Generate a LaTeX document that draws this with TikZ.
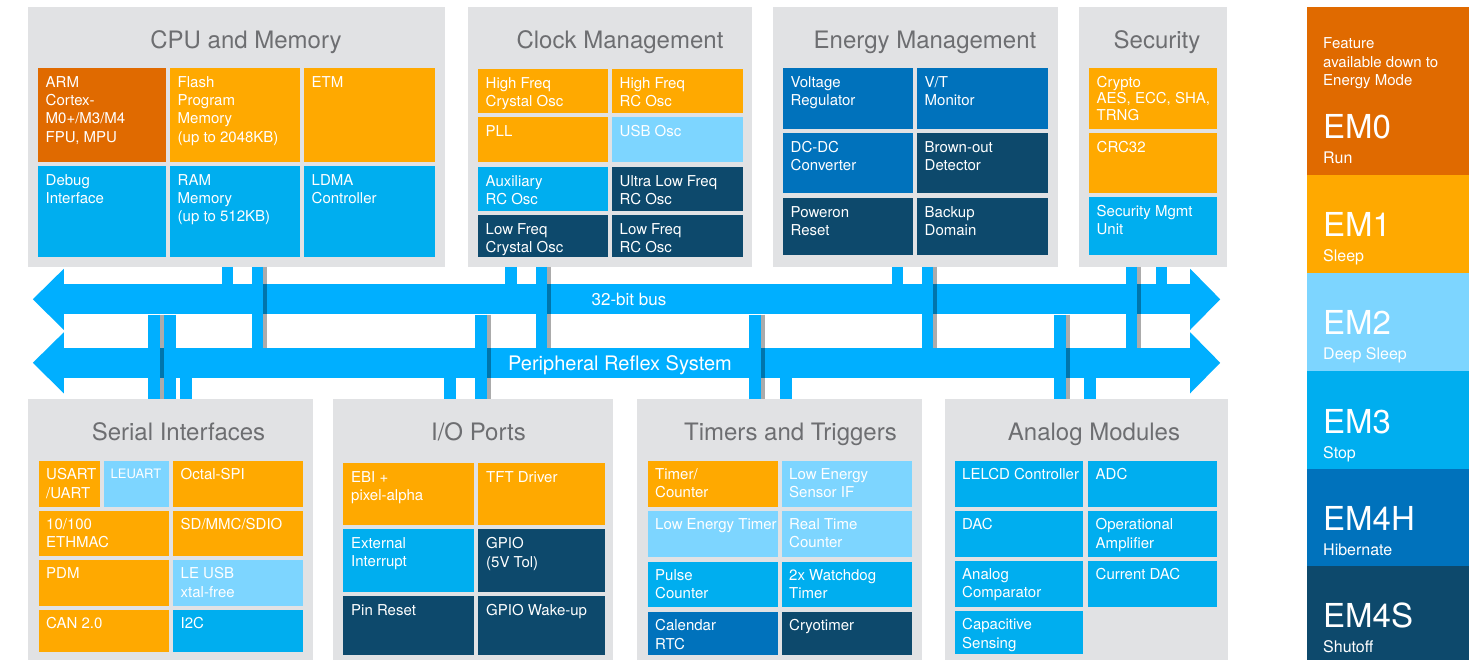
\documentclass[tikz,border=0pt]{standalone}
\usepackage{fontspec}
\setmainfont{TeX Gyre Heros}
\usepackage{xcolor}
\definecolor{panelgray}{RGB}{225,226,228}
\definecolor{titlegray}{RGB}{109,110,113}
\definecolor{orng}{RGB}{255,169,0}
\definecolor{darkorng}{RGB}{224,106,0}
\definecolor{cyanblue}{RGB}{0,174,239}
\definecolor{lightblue}{RGB}{125,213,255}
\definecolor{midblue}{RGB}{0,114,188}
\definecolor{navy}{RGB}{13,73,108}
\definecolor{busblue}{RGB}{0,175,255}

\begin{document}
\begin{tikzpicture}[x=1pt,y=1pt,yscale=-1,xscale=1,
	panel/.style={fill=panelgray, inner sep=0pt, anchor=north west},
	paneltitle/.style={text=titlegray, font=\fontsize{24}{28}\selectfont, anchor=base, inner sep=0pt},
	celltext/.style={text=white, font=\fontsize{15}{18.3}\selectfont, align=left, anchor=north west, inner sep=0pt},
	busbody/.style={fill=busblue, inner sep=0pt, minimum width=1126pt, minimum height=30pt},
	bustext/.style={text=white, anchor=base, inner sep=0pt},
	busbar/.style={draw=busblue, line width=11.5pt},
	barshade/.style={draw=black, draw opacity=0.33, line width=4pt},
	legbig/.style={text=white, font=\fontsize{33}{36}\selectfont, anchor=base west, inner sep=0pt},
	legsub/.style={text=white, font=\fontsize{16}{19}\selectfont, anchor=base west, inner sep=0pt}]
			\useasboundingbox (0,0) rectangle (1483,660);

			%Shape: Panels
			\node [panel, minimum width=417pt, minimum height=259.5pt] (cpu) at (28,7) {};
			\node [panel, minimum width=284pt, minimum height=259.5pt] (clock) at (468,7) {};
			\node [panel, minimum width=285pt, minimum height=259.5pt] (energy) at (773,7) {};
			\node [panel, minimum width=148pt, minimum height=259.5pt] (security) at (1079,7) {};
			\node [panel, minimum width=285pt, minimum height=261.5pt] (serial) at (28,398.5) {};
			\node [panel, minimum width=280pt, minimum height=261.5pt] (io) at (333,398.5) {};
			\node [panel, minimum width=285pt, minimum height=261.5pt] (timers) at (637,398.5) {};
			\node [panel, minimum width=283pt, minimum height=261.5pt] (analog) at (945,398.5) {};

			% Text Node
			\node [paneltitle] (cputitle) at (246,48.3) {CPU and Memory};
			\node [paneltitle] (clocktitle) at (620,48.5) {Clock Management};
			\node [paneltitle] (energytitle) at (925,48.5) {Energy Management};
			\node [paneltitle] (securitytitle) at (1157,48.5) {Security};
			\node [paneltitle] (serialtitle) at (178.5,440.5) {Serial Interfaces};
			\node [paneltitle] (iotitle) at (478.5,440.5) {I/O Ports};
			\node [paneltitle] (timerstitle) at (790.5,440.5) {Timers and Triggers};
			\node [paneltitle] (analogtitle) at (1094,440.5) {Analog Modules};

			%Shape: Rectangle -- CPU and Memory
			\fill [darkorng] (38,68) rectangle (166,162) ;
			\fill [orng] (170,68) rectangle (300,162) ;
			\fill [orng] (304,68) rectangle (435,162) ;
			\fill [cyanblue] (38,166) rectangle (166,257) ;
			\fill [cyanblue] (170,166) rectangle (300,257) ;
			\fill [cyanblue] (304,166) rectangle (435,257) ;
			% Text Node
			\node [celltext] (arm) at (45.5,76) {ARM\\Cortex-\\M0+/M3/M4\\FPU, MPU};
			\node [celltext] (flash) at (177.5,76) {Flash\\Program\\Memory\\(up to 2048KB)};
			\node [celltext] (etm) at (311.5,76) {ETM};
			\node [celltext] (debug) at (45.5,174) {Debug\\Interface};
			\node [celltext] (ram) at (177.5,174) {RAM\\Memory\\(up to 512KB)};
			\node [celltext] (ldma) at (311.5,174) {LDMA\\Controller};

			%Shape: Rectangle -- Clock Management
			\fill [orng] (478,69) rectangle (608,113) ;
			\fill [orng] (612,69) rectangle (743,113) ;
			\fill [orng] (478,117) rectangle (608,162) ;
			\fill [lightblue] (612,117) rectangle (743,162) ;
			\fill [cyanblue] (478,167) rectangle (608,211) ;
			\fill [navy] (612,167) rectangle (743,211) ;
			\fill [navy] (478,215) rectangle (608,257) ;
			\fill [navy] (612,215) rectangle (743,257) ;
			% Text Node
			\node [celltext] (hfxo) at (485.5,77) {High Freq\\Crystal Osc};
			\node [celltext] (hfrco) at (619.5,77) {High Freq\\RC Osc};
			\node [celltext] (pll) at (485.5,125) {PLL};
			\node [celltext] (usbosc) at (619.5,125) {USB Osc};
			\node [celltext] (auxrco) at (485.5,175) {Auxiliary\\RC Osc};
			\node [celltext] (ulfrco) at (619.5,175) {Ultra Low Freq\\RC Osc};
			\node [celltext] (lfxo) at (485.5,223) {Low Freq\\Crystal Osc};
			\node [celltext] (lfrco) at (619.5,223) {Low Freq\\RC Osc};

			%Shape: Rectangle -- Energy Management
			\fill [midblue] (783,68) rectangle (913,129) ;
			\fill [midblue] (917,68) rectangle (1048,129) ;
			\fill [midblue] (783,133) rectangle (913,193) ;
			\fill [navy] (917,133) rectangle (1048,193) ;
			\fill [navy] (783,198) rectangle (913,255) ;
			\fill [navy] (917,198) rectangle (1048,255) ;
			% Text Node
			\node [celltext] (vreg) at (790.5,76) {Voltage\\Regulator};
			\node [celltext] (vtmon) at (924.5,76) {V/T\\Monitor};
			\node [celltext] (dcdc) at (790.5,141) {DC-DC\\Converter};
			\node [celltext] (bod) at (924.5,141) {Brown-out\\Detector};
			\node [celltext] (por) at (790.5,206) {Poweron\\Reset};
			\node [celltext] (backup) at (924.5,206) {Backup\\Domain};

			%Shape: Rectangle -- Security
			\fill [orng] (1089,68) rectangle (1217,129) ;
			\fill [orng] (1089,133) rectangle (1217,193) ;
			\fill [cyanblue] (1089,197) rectangle (1217,255) ;
			% Text Node
			\node [celltext, font=\fontsize{15}{16.3}\selectfont] (crypto) at (1096.5,76) {Crypto\\AES, ECC, SHA,\\TRNG};
			\node [celltext] (crc) at (1096.5,141) {CRC32};
			\node [celltext] (smu) at (1096.5,205) {Security Mgmt\\Unit};

			%Shape: Rectangle -- Serial Interfaces
			\fill [orng] (39,461) rectangle (100,507) ;
			\fill [lightblue] (104,461) rectangle (169,507) ;
			\fill [orng] (173,461) rectangle (303,507) ;
			\fill [orng] (39,511) rectangle (169,556) ;
			\fill [orng] (173,511) rectangle (303,556) ;
			\fill [orng] (39,560) rectangle (169,606) ;
			\fill [lightblue] (173,560) rectangle (303,606) ;
			\fill [orng] (39,610) rectangle (169,652) ;
			\fill [cyanblue] (173,610) rectangle (303,652) ;
			% Text Node
			\node [celltext] (usart) at (46,468.5) {USART\\/UART};
			\node [celltext, font=\fontsize{13}{15}\selectfont] (leuart) at (110.5,468.5) {LEUART};
			\node [celltext] (ospi) at (180.5,468.5) {Octal-SPI};
			\node [celltext] (eth) at (46,518.5) {10/100\\ETHMAC};
			\node [celltext] (sdio) at (180.5,518.5) {SD/MMC/SDIO};
			\node [celltext] (pdm) at (46,567.5) {PDM};
			\node [celltext] (leusb) at (180.5,567.5) {LE USB\\xtal-free};
			\node [celltext] (can) at (46,617.5) {CAN 2.0};
			\node [celltext] (itwoc) at (180.5,617.5) {I2C};

			%Shape: Rectangle -- I/O Ports
			\fill [orng] (343,463) rectangle (474,525) ;
			\fill [orng] (478,463) rectangle (605,525) ;
			\fill [cyanblue] (343,529) rectangle (474,592) ;
			\fill [navy] (478,529) rectangle (605,592) ;
			\fill [navy] (343,596) rectangle (474,655) ;
			\fill [navy] (478,596) rectangle (605,655) ;
			% Text Node
			\node [celltext] (ebi) at (351,471.5) {EBI +\\pixel-alpha};
			\node [celltext] (tft) at (486,471.5) {TFT Driver};
			\node [celltext] (extint) at (351,537.5) {External\\Interrupt};
			\node [celltext] (gpio) at (486,537.5) {GPIO\\(5V Tol)};
			\node [celltext] (pinreset) at (351,604) {Pin Reset};
			\node [celltext] (gpiowake) at (486,604) {GPIO Wake-up};

			%Shape: Rectangle -- Timers and Triggers
			\fill [orng] (648,461) rectangle (778,507) ;
			\fill [lightblue] (782,461) rectangle (912,507) ;
			\fill [lightblue] (648,511) rectangle (778,557) ;
			\fill [lightblue] (782,511) rectangle (912,557) ;
			\fill [cyanblue] (648,562) rectangle (778,607) ;
			\fill [cyanblue] (782,562) rectangle (912,607) ;
			\fill [midblue] (648,612) rectangle (778,655) ;
			\fill [navy] (782,612) rectangle (912,655) ;
			% Text Node
			\node [celltext] (timer) at (655,468.5) {Timer/\\Counter};
			\node [celltext] (lesense) at (789,468.5) {Low Energy\\Sensor IF};
			\node [celltext] (letimer) at (655,518.5) {Low Energy Timer};
			\node [celltext] (rtc) at (789,518.5) {Real Time\\Counter};
			\node [celltext] (pcnt) at (655,569.5) {Pulse\\Counter};
			\node [celltext] (wdog) at (789,569.5) {2x Watchdog\\Timer};
			\node [celltext] (rtcc) at (655,619.5) {Calendar\\RTC};
			\node [celltext] (cryo) at (789,619.5) {Cryotimer};

			%Shape: Rectangle -- Analog Modules
			\fill [cyanblue] (955,461) rectangle (1083,507) ;
			\fill [cyanblue] (1088,461) rectangle (1217,507) ;
			\fill [cyanblue] (955,511) rectangle (1083,557) ;
			\fill [cyanblue] (1088,511) rectangle (1217,557) ;
			\fill [cyanblue] (955,561) rectangle (1083,607) ;
			\fill [cyanblue] (1088,561) rectangle (1217,607) ;
			\fill [cyanblue] (955,611) rectangle (1083,654) ;
			% Text Node
			\node [celltext] (lelcd) at (962,468.5) {LELCD Controller};
			\node [celltext] (adc) at (1095.5,468.5) {ADC};
			\node [celltext] (dac) at (962,518.5) {DAC};
			\node [celltext] (opamp) at (1095.5,518.5) {Operational\\Amplifier};
			\node [celltext] (acmp) at (962,568.5) {Analog\\Comparator};
			\node [celltext] (idac) at (1095.5,568.5) {Current DAC};
			\node [celltext] (csen) at (962,618.5) {Capacitive\\Sensing};

			%Shape: Double Arrows (buses)
			\node [busbody] (bus1) at (627,299.5) {};
			\fill [busblue] (bus1.north west) -- ++(0,-15.5) -- ++(-31,30.5) -- ++(31,30.5) -- (bus1.south west) -- cycle ;
			\fill [busblue] (bus1.north east) -- ++(0,-15.5) -- ++(30,30.5) -- ++(-30,30.5) -- (bus1.south east) -- cycle ;
			\node [busbody] (prs) at (627,363) {};
			\fill [busblue] (prs.north west) -- ++(0,-15.5) -- ++(-31,30.5) -- ++(31,30.5) -- (prs.south west) -- cycle ;
			\fill [busblue] (prs.north east) -- ++(0,-15.5) -- ++(30,30.5) -- ++(-30,30.5) -- (prs.south east) -- cycle ;

			%Straight Lines -- stubs to the 32-bit bus
			\draw [busbar] (cpu.south -| 227.5,0) -- (bus1.north -| 227.5,0) ;
			\draw [busbar] (clock.south -| 511,0) -- (bus1.north -| 511,0) ;
			\draw [busbar] (energy.south -| 897.5,0) -- (bus1.north -| 897.5,0) ;
			\draw [busbar] (security.south -| 1161.5,0) -- (bus1.north -| 1161.5,0) ;
			%Straight Lines -- crossing down to the reflex system
			\draw [busbar] (cpu.south -| 257.5,0) -- (prs.north -| 257.5,0) ;
			\draw [barshade] (cpu.south -| 265.25,0) -- (prs.north -| 265.25,0) ;
			\draw [busbar] (clock.south -| 541.5,0) -- (prs.north -| 541.5,0) ;
			\draw [barshade] (clock.south -| 549.25,0) -- (prs.north -| 549.25,0) ;
			\draw [busbar] (energy.south -| 927.5,0) -- (prs.north -| 927.5,0) ;
			\draw [barshade] (energy.south -| 935.25,0) -- (prs.north -| 935.25,0) ;
			\draw [busbar] (security.south -| 1131.25,0) -- (prs.north -| 1131.25,0) ;
			\draw [barshade] (security.south -| 1139,0) -- (prs.north -| 1139,0) ;
			%Straight Lines -- 32-bit bus down to the lower panels
			\draw [busbar] (bus1.south -| 154,0) -- (serial.north -| 154,0) ;
			\draw [barshade] (bus1.south -| 161.75,0) -- (serial.north -| 161.75,0) ;
			\draw [busbar] (bus1.south -| 170,0) -- (serial.north -| 170,0) ;
			\draw [busbar] (bus1.south -| 481,0) -- (io.north -| 481,0) ;
			\draw [barshade] (bus1.south -| 488.75,0) -- (io.north -| 488.75,0) ;
			\draw [busbar] (bus1.south -| 755,0) -- (timers.north -| 755,0) ;
			\draw [barshade] (bus1.south -| 762.75,0) -- (timers.north -| 762.75,0) ;
			\draw [busbar] (bus1.south -| 1060,0) -- (analog.north -| 1060,0) ;
			\draw [barshade] (bus1.south -| 1067.75,0) -- (analog.north -| 1067.75,0) ;
			%Straight Lines -- stubs from the reflex system
			\draw [busbar] (prs.south -| 186,0) -- (serial.north -| 186,0) ;
			\draw [busbar] (prs.south -| 450,0) -- (io.north -| 450,0) ;
			\draw [busbar] (prs.south -| 786,0) -- (timers.north -| 786,0) ;
			\draw [busbar] (prs.south -| 1090,0) -- (analog.north -| 1090,0) ;

			% Text Node
			\node [bustext, font=\fontsize{17}{20}\selectfont] (buslabel) at (629,305.7) {32-bit bus};
			\node [bustext, font=\fontsize{20}{24}\selectfont] (prslabel) at (620,370) {Peripheral Reflex System};

			%Shape: Rectangle -- energy mode legend
			\fill [darkorng] (1307,7) rectangle (1469,175) ;
			\fill [orng] (1307,175) rectangle (1469,273) ;
			\fill [lightblue] (1307,273) rectangle (1469,371) ;
			\fill [cyanblue] (1307,371) rectangle (1469,469) ;
			\fill [midblue] (1307,469) rectangle (1469,566) ;
			\fill [navy] (1307,566) rectangle (1469,660) ;
			% Text Node
			\node [celltext, font=\fontsize{15}{18.5}\selectfont] (feature) at (1323,37.5) {Feature\\available down to\\Energy Mode};
			\node [legbig] (emzero) at (1323,139) {EM0};
			\node [legsub] (run) at (1323,164) {Run};
			\node [legbig] (emone) at (1323,237) {EM1};
			\node [legsub] (sleep) at (1323,262) {Sleep};
			\node [legbig] (emtwo) at (1323,334.5) {EM2};
			\node [legsub] (deepsleep) at (1323,359.5) {Deep Sleep};
			\node [legbig] (emthree) at (1323,433) {EM3};
			\node [legsub] (stop) at (1323,458) {Stop};
			\node [legbig] (emfourh) at (1323,530.5) {EM4H};
			\node [legsub] (hibernate) at (1323,555.5) {Hibernate};
			\node [legbig] (emfours) at (1323,627.5) {EM4S};
			\node [legsub] (shutoff) at (1323,652.5) {Shutoff};

\end{tikzpicture}
\end{document}
